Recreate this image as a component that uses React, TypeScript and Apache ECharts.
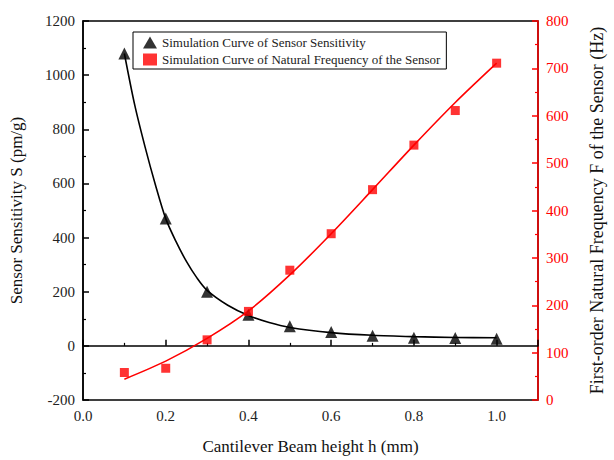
import React, { useEffect, useRef } from "react";
import * as echarts from "echarts";

const heights = [0.1, 0.2, 0.3, 0.4, 0.5, 0.6, 0.7, 0.8, 0.9, 1.0];
const sensitivity = [1080, 470, 200, 115, 72, 51, 37, 30, 29, 26];
const frequency = [58, 67, 127, 187, 274, 351, 444, 538, 611, 711];

const fitSensX = [0.1, 0.125, 0.15, 0.175, 0.2, 0.225, 0.25, 0.275, 0.3, 0.35, 0.4, 0.45, 0.5, 0.6, 0.7, 0.8, 0.9, 1.0];
const fitSensY = [1080, 890, 735, 595, 470, 385, 312, 252, 205, 150, 112, 86, 68, 49, 39, 34, 31, 30];
const fitFreqX = [0.1, 0.2, 0.3, 0.4, 0.5, 0.6, 0.7, 0.8, 0.9, 1.0];
const fitFreqY = [44, 82, 130, 188, 264, 351, 444, 538, 628, 711];

const sensName = "Simulation Curve of Sensor Sensitivity";
const freqName = "Simulation Curve of Natural Frequency of the Sensor";

const FONT = "Liberation Serif";

export default function App() {
  const ref = useRef<HTMLDivElement>(null);
  useEffect(() => {
    if (!ref.current) return;
    const chart = echarts.init(ref.current, null, { renderer: "svg" });
    chart.setOption({
      animation: false,
      backgroundColor: "#fff",
      textStyle: { fontFamily: FONT },
      grid: {
        left: 82,
        right: 59,
        top: 21,
        bottom: 58,
        show: true,
        borderColor: "#000",
        borderWidth: 1.5,
        backgroundColor: "transparent",
      },
      legend: {
        orient: "vertical",
        left: 133,
        top: 32,
        data: [sensName, freqName],
        borderColor: "#000",
        borderWidth: 1,
        borderRadius: 0,
        padding: [4, 6, 3, 10],
        itemGap: 4,
        itemWidth: 14,
        itemHeight: 12,
        textStyle: { fontFamily: FONT, fontSize: 13, color: "#222" },
      },
      xAxis: {
        type: "value",
        min: 0,
        max: 1.1,
        interval: 0.2,
        name: "Cantilever Beam height h (mm)",
        nameLocation: "middle",
        nameGap: 38,
        nameTextStyle: { fontFamily: FONT, fontSize: 17, color: "#111" },
        axisLine: { show: true, lineStyle: { color: "#000", width: 1.5 } },
        axisTick: { show: true, inside: true, length: 6, lineStyle: { color: "#000", width: 1.5 } },
        minorTick: { show: true, splitNumber: 2, length: 3, lineStyle: { color: "#000", width: 1.2 } },
        splitLine: { show: false },
        axisLabel: {
          fontFamily: FONT,
          fontSize: 15,
          color: "#222",
          margin: 8,
          showMaxLabel: false,
          formatter: (v: number) => (v > 1.05 ? "" : v.toFixed(1)),
        },
      },
      yAxis: [
        {
          type: "value",
          min: -200,
          max: 1200,
          interval: 200,
          name: "Sensor Sensitivity S (pm/g)",
          nameLocation: "middle",
          nameGap: 58,
          nameTextStyle: { fontFamily: FONT, fontSize: 17, color: "#111" },
          axisLine: { show: true, lineStyle: { color: "#000", width: 1.5 } },
          axisTick: { show: true, inside: true, length: 6, lineStyle: { color: "#000", width: 1.5 } },
          minorTick: { show: true, splitNumber: 2, length: 3, lineStyle: { color: "#000", width: 1.2 } },
          splitLine: { show: false },
          axisLabel: {
            fontFamily: FONT,
            fontSize: 15,
            color: "#222",
            margin: 8,
            formatter: (v: number) => String(Math.round(v)),
          },
        },
        {
          type: "value",
          min: 0,
          max: 800,
          interval: 100,
          position: "right",
          name: "First-order Natural Frequency F of the Sensor (Hz)",
          nameLocation: "middle",
          nameGap: 50,
          nameRotate: 90,
          nameTextStyle: { fontFamily: FONT, fontSize: 18, color: "#111" },
          axisLine: { show: true, lineStyle: { color: "#ff0000", width: 1.5 } },
          axisTick: { show: true, inside: true, length: 6, lineStyle: { color: "#ff0000", width: 1.5 } },
          minorTick: { show: true, splitNumber: 2, length: 3, lineStyle: { color: "#ff0000", width: 1.2 } },
          splitLine: { show: false },
          axisLabel: {
            fontFamily: FONT,
            fontSize: 15,
            color: "#ff0000",
            margin: 8,
            formatter: (v: number) => String(Math.round(v)),
          },
        },
      ],
      series: [
        {
          name: "sensFit",
          type: "line",
          yAxisIndex: 0,
          smooth: 0.3,
          showSymbol: false,
          symbol: "none",
          lineStyle: { color: "#000", width: 1.6 },
          data: fitSensX.map((x, i) => [x, fitSensY[i]]),
          z: 2,
        },
        {
          name: "freqFit",
          type: "line",
          yAxisIndex: 1,
          smooth: 0.3,
          showSymbol: false,
          symbol: "none",
          lineStyle: { color: "#ff0000", width: 1.6 },
          data: fitFreqX.map((x, i) => [x, fitFreqY[i]]),
          z: 2,
        },
        {
          name: sensName,
          type: "scatter",
          yAxisIndex: 0,
          symbol: "triangle",
          symbolSize: 12,
          itemStyle: { color: "#000" },
          data: heights.map((x, i) => [x, sensitivity[i]]),
          z: 3,
        },
        {
          name: freqName,
          type: "scatter",
          yAxisIndex: 1,
          symbol: "rect",
          symbolSize: 9,
          itemStyle: { color: "#ff0000" },
          data: heights.map((x, i) => [x, frequency[i]]),
          z: 4,
        },
      ],
    });
    return () => chart.dispose();
  }, []);
  return (
    <div
      ref={ref}
      style={{ position: "absolute", left: 0, top: 0, width: 614, height: 460 }}
    />
  );
}
